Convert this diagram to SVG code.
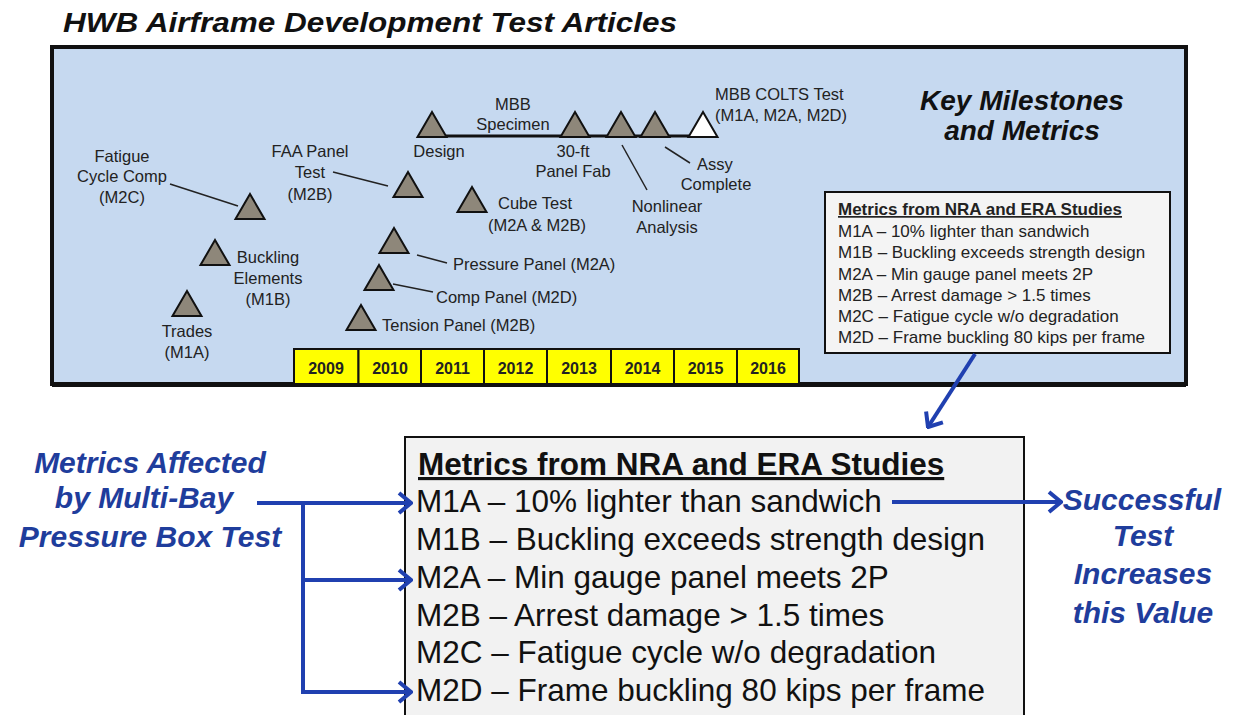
<svg xmlns="http://www.w3.org/2000/svg" width="1233" height="715" viewBox="0 0 1233 715">
<style>
.t{font-family:"Liberation Sans",Arial,sans-serif;fill:#222;font-size:16.5px}
.m{text-anchor:middle}
.tri{fill:#8e877a;stroke:#111;stroke-width:2;stroke-linejoin:miter}
.lead{stroke:#222;stroke-width:1.5;fill:none}
.yr{fill:#ffff00;stroke:#111;stroke-width:2}
.yt{font-family:"Liberation Sans",Arial,sans-serif;font-weight:bold;font-size:16px;fill:#222;text-anchor:middle}
.blue{font-family:"Liberation Sans",Arial,sans-serif;font-weight:bold;font-style:italic;fill:#1f3d9c;text-anchor:middle;font-size:30px}
.big{font-family:"Liberation Sans",Arial,sans-serif;font-size:31.5px;fill:#111}
.sm{font-family:"Liberation Sans",Arial,sans-serif;font-size:17px;fill:#222}
.conn{stroke:#2040b0;stroke-width:4;fill:none}
</style>
<defs>
<path id="tri" d="M0,-25 L14.5,0 L-14.5,0 Z"/>
<marker id="ah" markerUnits="userSpaceOnUse" markerWidth="16" markerHeight="24" viewBox="0 0 16 24" refX="14" refY="12" orient="auto">
<path d="M2,2 L14,12 L2,22" fill="none" stroke="#2040b0" stroke-width="4"/>
</marker>
</defs>
<rect width="1233" height="715" fill="#ffffff"/>
<text id="title" x="63" y="32" font-family="Liberation Sans,Arial,sans-serif" font-weight="bold" font-style="italic" font-size="28" fill="#111" textLength="614" lengthAdjust="spacingAndGlyphs">HWB Airframe Development Test Articles</text>

<g id="panel">
<rect x="52" y="47" width="1134" height="337" fill="#c6d9f0" stroke="#111" stroke-width="4"/>
<text x="1022" y="110" font-family="Liberation Sans,Arial,sans-serif" font-weight="bold" font-style="italic" font-size="28" fill="#111" text-anchor="middle">Key Milestones</text>
<text x="1022" y="140" font-family="Liberation Sans,Arial,sans-serif" font-weight="bold" font-style="italic" font-size="28" fill="#111" text-anchor="middle">and Metrics</text>
</g>

<g id="timeline">
<line x1="418" y1="136" x2="717" y2="136" stroke="#111" stroke-width="3"/>
<text class="t m" x="513" y="110">MBB</text>
<text class="t m" x="513" y="130">Specimen</text>
</g>

<g id="m-trades"><use href="#tri" class="tri" x="187" y="316"/><text class="t m" x="187" y="337">Trades</text><text class="t m" x="187" y="358">(M1A)</text></g>
<g id="m-buckling"><use href="#tri" class="tri" x="215" y="265"/><text class="t m" x="268" y="263">Buckling</text><text class="t m" x="268" y="284">Elements</text><text class="t m" x="268" y="305">(M1B)</text></g>
<g id="m-fatigue"><use href="#tri" class="tri" x="250" y="219"/><line class="lead" x1="170" y1="184" x2="238" y2="206"/><text class="t m" x="122" y="162">Fatigue</text><text class="t m" x="122" y="182">Cycle Comp</text><text class="t m" x="122" y="203">(M2C)</text></g>
<g id="m-faa"><use href="#tri" class="tri" x="408" y="197"/><line class="lead" x1="333" y1="172" x2="388" y2="186"/><text class="t m" x="310" y="157">FAA Panel</text><text class="t m" x="310" y="178">Test</text><text class="t m" x="310" y="200">(M2B)</text></g>
<g id="m-design"><use href="#tri" class="tri" x="432" y="137"/><text class="t m" x="439" y="157">Design</text></g>
<g id="m-panelfab"><use href="#tri" class="tri" x="575" y="137"/><text class="t m" x="573" y="157">30-ft</text><text class="t m" x="573" y="177">Panel Fab</text></g>
<g id="m-nonlinear"><use href="#tri" class="tri" x="621" y="137"/><line class="lead" x1="622" y1="145" x2="647" y2="190"/><text class="t m" x="667" y="212">Nonlinear</text><text class="t m" x="667" y="233">Analysis</text></g>
<g id="m-assy"><use href="#tri" class="tri" x="655" y="137"/><line class="lead" x1="665" y1="147" x2="690" y2="163"/><text class="t m" x="715" y="170">Assy</text><text class="t m" x="716" y="190">Complete</text></g>
<g id="m-colts"><use href="#tri" class="tri" x="703" y="137" style="fill:#ffffff"/><text class="t" x="715" y="100">MBB COLTS Test</text><text class="t" x="715" y="121">(M1A, M2A, M2D)</text></g>
<g id="m-cube"><use href="#tri" class="tri" x="472" y="212"/><text class="t m" x="535" y="209">Cube Test</text><text class="t m" x="537" y="231">(M2A &amp; M2B)</text></g>
<g id="m-pressure"><use href="#tri" class="tri" x="394" y="253"/><line class="lead" x1="417" y1="255" x2="447" y2="263"/><text class="t" x="453" y="270">Pressure Panel (M2A)</text></g>
<g id="m-comp"><use href="#tri" class="tri" x="379" y="290"/><line class="lead" x1="393" y1="284" x2="433" y2="292"/><text class="t" x="436" y="303">Comp Panel (M2D)</text></g>
<g id="m-tension"><use href="#tri" class="tri" x="361" y="330"/><text class="t" x="382" y="331">Tension Panel (M2B)</text></g>

<g id="years">
<rect class="yr" x="294" y="349" width="64.5" height="37"/><text class="yt" x="326" y="374">2009</text>
<rect class="yr" x="358.5" y="349" width="62.5" height="37"/><text class="yt" x="390" y="374">2010</text>
<rect class="yr" x="421" y="349" width="63" height="37"/><text class="yt" x="452.5" y="374">2011</text>
<rect class="yr" x="484" y="349" width="63" height="37"/><text class="yt" x="515.5" y="374">2012</text>
<rect class="yr" x="547" y="349" width="64" height="37"/><text class="yt" x="579" y="374">2013</text>
<rect class="yr" x="611" y="349" width="63" height="37"/><text class="yt" x="642.5" y="374">2014</text>
<rect class="yr" x="674" y="349" width="63" height="37"/><text class="yt" x="705.5" y="374">2015</text>
<rect class="yr" x="737" y="349" width="62" height="37"/><text class="yt" x="768" y="374">2016</text>
<line x1="52" y1="385" x2="1186" y2="385" stroke="#111" stroke-width="4"/>
</g>

<g id="small-box">
<rect x="825" y="192" width="345" height="161" fill="#f4f4f4" stroke="#111" stroke-width="2"/>
<text class="sm" x="838" y="215" font-weight="bold" text-decoration="underline">Metrics from NRA  and ERA  Studies</text>
<text class="sm" x="838" y="236.5">M1A – 10% lighter than sandwich</text>
<text class="sm" x="838" y="258">M1B – Buckling exceeds strength design</text>
<text class="sm" x="838" y="279.5">M2A – Min gauge panel meets 2P</text>
<text class="sm" x="838" y="301">M2B – Arrest damage &gt; 1.5 times</text>
<text class="sm" x="838" y="322">M2C – Fatigue cycle w/o degradation</text>
<text class="sm" x="838" y="343">M2D – Frame buckling 80 kips per frame</text>
</g>

<g id="big-box">
<rect x="405" y="437" width="619" height="290" fill="#f2f2f2" stroke="#111" stroke-width="2"/>
<text class="big" x="418" y="475" font-weight="bold" text-decoration="underline">Metrics from NRA and ERA Studies</text>
<text class="big" x="416" y="512">M1A – 10% lighter than sandwich</text>
<text class="big" x="416" y="550">M1B – Buckling exceeds strength design</text>
<text class="big" x="416" y="588">M2A – Min gauge panel meets 2P</text>
<text class="big" x="416" y="626">M2B – Arrest damage &gt; 1.5 times</text>
<text class="big" x="416" y="663">M2C – Fatigue cycle w/o degradation</text>
<text class="big" x="416" y="701">M2D – Frame buckling 80 kips per frame</text>
</g>

<g id="left-label">
<text class="blue" x="150" y="473">Metrics Affected</text>
<text class="blue" x="144" y="508">by Multi-Bay</text>
<text class="blue" x="150" y="547">Pressure Box Test</text>
</g>

<g id="right-label">
<text class="blue" x="1142" y="510">Successful</text>
<text class="blue" x="1143" y="546">Test</text>
<text class="blue" x="1143" y="584">Increases</text>
<text class="blue" x="1143" y="623">this Value</text>
</g>

<g id="connectors">
<path class="conn" d="M257,503 H411" marker-end="url(#ah)"/>
<path class="conn" d="M303,503 V692 H411" marker-end="url(#ah)"/>
<path class="conn" d="M303,580 H411" marker-end="url(#ah)"/>
<path class="conn" d="M892,502 H1061" marker-end="url(#ah)"/>
<path class="conn" d="M975,354 L928,427" marker-end="url(#ah)"/>
</g>
</svg>
